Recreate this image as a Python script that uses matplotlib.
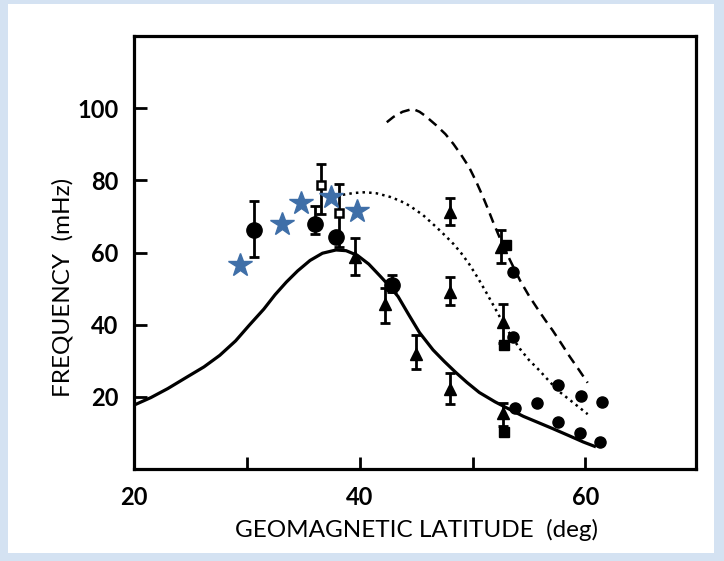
import matplotlib.pyplot as plt
from matplotlib.patches import Rectangle

plt.rcParams['font.family'] = ['Lato', 'DejaVu Sans']

# blue stars (new observations)
star_x = [29.4, 33.1, 34.8, 37.5, 39.8]
star_y = [56.4, 68.0, 73.7, 75.3, 71.6]

# large filled circles with error bars
bigc_x = [30.6, 36.0, 37.9, 42.9]
bigc_y = [66.1, 68.0, 64.3, 50.9]
bigc_lo = [58.7, 65.2, 64.3, 49.0]
bigc_hi = [74.4, 73.0, 64.3, 53.7]

# open squares with error bars
osq_x = [36.6, 38.2]
osq_y = [78.6, 70.9]
osq_lo = [70.8, 61.5]
osq_hi = [84.4, 79.0]

# filled triangles with error bars
tri_x = [39.6, 42.2, 45.0, 48.0, 48.0, 48.0, 52.5, 52.7, 52.7]
tri_y = [58.7, 45.8, 32.0, 22.3, 49.0, 71.2, 61.5, 40.8, 15.4]
tri_lo = [53.7, 40.5, 27.8, 18.0, 45.4, 67.5, 57.1, 35.0, 12.0]
tri_hi = [64.1, 50.3, 37.1, 26.6, 53.2, 75.2, 66.1, 45.6, 18.3]

# filled squares
sq_x = [53.0, 52.8, 52.8]
sq_y = [62.0, 34.3, 10.3]

# small filled circles
smc_x = [53.6, 53.6, 53.8, 55.7, 57.6, 59.6, 61.5, 57.6, 59.5, 61.3]
smc_y = [54.6, 36.6, 17.0, 18.3, 23.4, 20.3, 18.5, 12.9, 10.1, 7.6]

# model curves
solid_x = [20.0, 21.5, 23.0, 24.7, 26.2, 27.6, 29.0, 30.2, 31.5, 32.5, 33.5,
           34.5, 35.6, 36.7, 37.9, 38.8, 39.8, 40.8, 41.8, 42.6, 43.4, 44.3,
           45.3, 46.5, 47.5, 48.5, 49.5, 50.6, 52.0, 53.3, 54.5, 55.8, 57.1,
           58.5, 59.8, 60.8]
solid_y = [17.7, 19.8, 22.3, 25.5, 28.3, 31.5, 35.5, 39.8, 44.3, 48.3, 51.8,
           54.9, 57.8, 59.8, 60.7, 60.5, 59.2, 56.8, 53.5, 50.8, 47.8, 43.0,
           37.8, 33.0, 29.8, 26.8, 24.0, 21.2, 18.6, 16.5, 14.6, 12.9, 11.2,
           9.3, 7.5, 6.3]

dot_x = [38.5, 39.5, 40.5, 41.5, 42.7, 43.6, 44.4, 45.6, 46.8, 47.6, 48.3,
         49.0, 49.7, 50.5, 51.2, 52.0, 52.7, 53.5, 54.2, 55.0, 55.9, 56.8,
         57.7, 59.0, 60.2]
dot_y = [76.0, 76.5, 76.7, 76.4, 75.4, 74.3, 73.0, 70.4, 67.0, 64.6, 62.4,
         59.8, 56.8, 52.8, 49.0, 44.5, 40.5, 36.5, 33.3, 30.2, 27.4, 24.3,
         21.4, 18.2, 15.2]

dash_x = [42.4, 43.0, 43.8, 44.7, 45.3, 45.8, 46.8, 47.6, 48.3, 49.0, 49.7,
          50.3, 50.9, 51.4, 51.8, 52.5, 53.3, 54.2, 55.0, 55.8, 56.5, 57.1,
          57.9, 58.6, 59.4, 60.2]
dash_y = [96.1, 97.6, 99.0, 99.8, 99.0, 97.9, 95.2, 92.8, 90.1, 87.0, 83.6,
          79.8, 75.6, 71.8, 68.6, 63.4, 58.0, 52.3, 48.0, 44.2, 41.0, 38.4,
          34.6, 31.2, 27.6, 23.9]

fig = plt.figure(figsize=(7.24, 5.61), dpi=100)
fig.patch.set_facecolor('#d4e2f2')
fig.patches.append(Rectangle((8 / 724, 8 / 561), 706 / 724, 549 / 561,
                             transform=fig.transFigure, facecolor='white',
                             edgecolor='none', zorder=-10))

ax = fig.add_axes([134 / 724, 1 - 469 / 561, 562 / 724, 433 / 561])
ax.set_zorder(1)
ax.patch.set_alpha(0)
ax.set_xlim(20, 69.8)
ax.set_ylim(0, 120)

ax.plot(solid_x, solid_y, '-', color='black', lw=2.3)
ax.plot(dot_x, dot_y, ':', color='black', lw=1.8)
ax.plot(dash_x, dash_y, '--', color='black', lw=1.8, dashes=(4, 2.5))

ebkw = dict(fmt='none', ecolor='black', elinewidth=2, capsize=3.3, capthick=2)


def yerr(y, lo, hi):
    return [[a - b for a, b in zip(y, lo)], [b - a for a, b in zip(y, hi)]]


ax.errorbar(bigc_x, bigc_y, yerr=yerr(bigc_y, bigc_lo, bigc_hi), **ebkw)
ax.errorbar(osq_x, osq_y, yerr=yerr(osq_y, osq_lo, osq_hi), **ebkw)
ax.errorbar(tri_x, tri_y, yerr=yerr(tri_y, tri_lo, tri_hi), **ebkw)

ax.plot(bigc_x, bigc_y, 'o', color='black', ms=11)
ax.plot(osq_x, osq_y, 's', mfc='white', mec='black', mew=1.8, ms=6)
ax.plot(tri_x, tri_y, '^', color='black', ms=8)
ax.plot(sq_x, sq_y, 's', color='black', ms=6.5)
ax.plot(smc_x, smc_y, 'o', color='black', ms=8)
ax.plot(star_x, star_y, '*', color='#3f6fa8', ms=17.5, mec='#3f6fa8')

for s in ax.spines.values():
    s.set_linewidth(2.3)

ax.set_xticks([20, 30, 40, 50, 60])
ax.set_xticklabels(['20', '', '40', '', '60'])
ax.set_yticks([20, 40, 60, 80, 100])
ax.tick_params(which='major', direction='in', length=9, width=2,
               labelsize=17, top=False, right=False)
ax.tick_params(axis='x', pad=12)
ax.tick_params(axis='y', pad=11)
for lab in ax.get_xticklabels() + ax.get_yticklabels():
    lab.set_fontweight('bold')

fig.text(0.087, 1 - 287 / 561, 'FREQUENCY  (mHz)', rotation=90,
         ha='center', va='center', fontsize=17.5)
fig.text(417 / 724, 1 - 530 / 561, 'GEOMAGNETIC LATITUDE  (deg)',
         ha='center', va='center', fontsize=17.5)

fig.savefig('out.png', dpi=100, facecolor=fig.get_facecolor())
